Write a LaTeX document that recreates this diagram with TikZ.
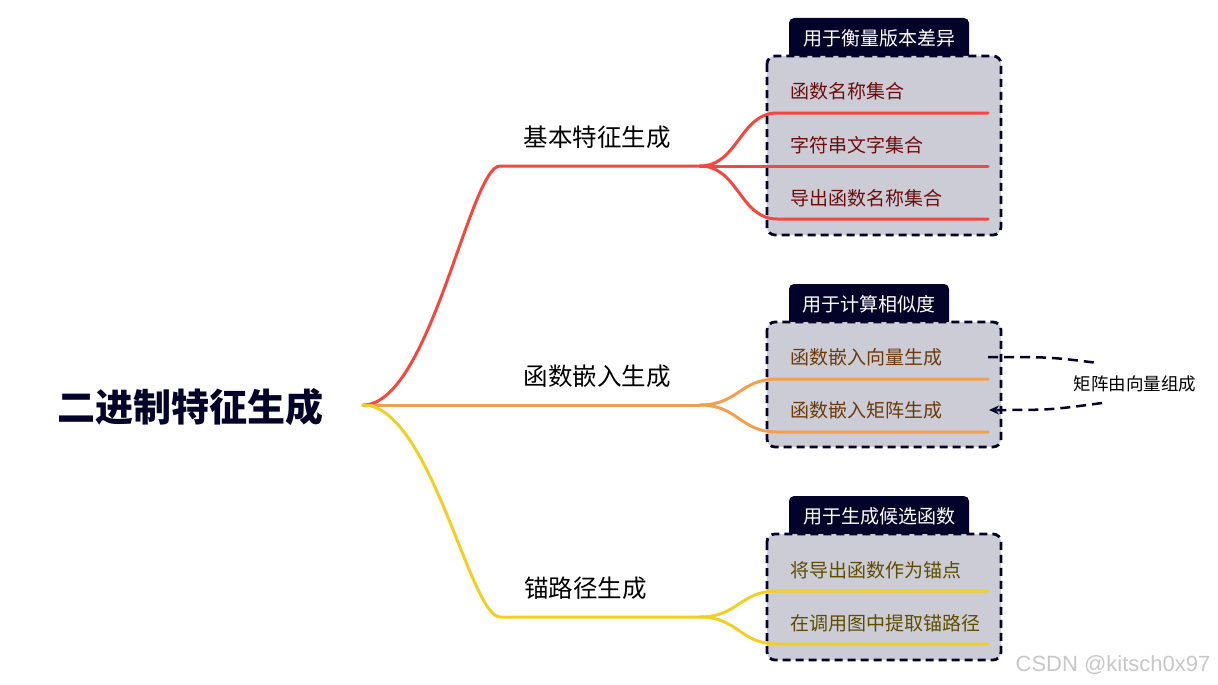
\documentclass[tikz,border=0pt]{standalone}
\usepackage{fontspec}
\usetikzlibrary{arrows.meta}
\newfontfamily\cjk{Noto Sans CJK SC}
\newfontfamily\wmfont{Liberation Sans}
\definecolor{navy}{HTML}{03032A}
\definecolor{boxfill}{HTML}{CBCCD5}
\definecolor{cred}{HTML}{F4473F}
\definecolor{corange}{HTML}{F3A04E}
\definecolor{cyellow}{HTML}{F2CF26}
\definecolor{tred}{HTML}{6E0C0C}
\definecolor{torange}{HTML}{6B3A0A}
\definecolor{tyellow}{HTML}{5E4C00}
\tikzset{
  branchline/.style={line width=3pt, line cap=round},
  branchlabel/.style={font=\cjk\fontsize{24.5}{28}\selectfont, text=black, inner sep=0pt},
  itemtext/.style={font=\cjk\fontsize{19}{22}\selectfont, anchor=west, inner sep=0pt},
  tabbox/.style={fill=navy, rounded corners=5pt, inner sep=0pt},
  tabtext/.style={text=white, font=\cjk\fontsize{19}{22}\selectfont, inner sep=0pt},
  groupfill/.style={fill=boxfill, rounded corners=8pt},
  groupborder/.style={draw=navy, line width=2.8pt, rounded corners=8pt, dash pattern=on 8pt off 5pt},
  annline/.style={draw=navy, line width=2.5pt, dash pattern=on 10pt off 6pt},
}
\begin{document}
\begin{tikzpicture}[x=1pt,y=-1pt]
\useasboundingbox (0,0) rectangle (1218,685);

% root
\node[font=\cjk\bfseries\fontsize{38}{42}\selectfont, text=navy, inner sep=0pt] (root) at (190,407) {二进制特征生成};
\coordinate (o) at (363,405);

% tabs (drawn below the boxes)
\node[tabbox, minimum width=180pt, minimum height=48pt] (tab1) at (879,42) {};
\node[tabtext] (tab1t) at (879,38) {用于衡量版本差异};
\node[tabbox, minimum width=160pt, minimum height=48pt] (tab2) at (869,308) {};
\node[tabtext] (tab2t) at (869,304) {用于计算相似度};
\node[tabbox, minimum width=180pt, minimum height=48pt] (tab3) at (879,520) {};
\node[tabtext] (tab3t) at (879,516) {用于生成候选函数};

% box fills
\path[groupfill] (767,56) rectangle (1001,235);
\path[groupfill] (767,322) rectangle (1001,447);
\path[groupfill] (767,534) rectangle (1001,660);

% branch labels
\node[branchlabel] (b1) at (597,137) {基本特征生成};
\node[branchlabel] (b2) at (597,376) {函数嵌入生成};
\node[branchlabel, anchor=west] (b3) at (524,588) {锚路径生成};

% junctions
\coordinate (j1) at (700,166);
\coordinate (j2) at (700,405);
\coordinate (j3) at (700,617);

% line ends
\coordinate (l11) at (988,113);
\coordinate (l12) at (988,166);
\coordinate (l13) at (988,219);
\coordinate (l21) at (988,379);
\coordinate (l22) at (988,432);
\coordinate (l31) at (988,591);
\coordinate (l32) at (988,644);

% red branch
\draw[branchline, cred] (o) .. controls (430,405) and (470,166) .. (500,166) -- (j1);
\draw[branchline, cred] (j1) .. controls (738,166) and (740,113) .. (777,113) -- (l11);
\draw[branchline, cred] (j1) -- (l12);
\draw[branchline, cred] (j1) .. controls (738,166) and (740,219) .. (777,219) -- (l13);

% orange branch
\draw[branchline, corange] (o) -- (j2);
\draw[branchline, corange] (j2) .. controls (738,405) and (740,379) .. (777,379) -- (l21);
\draw[branchline, corange] (j2) .. controls (738,405) and (740,432) .. (777,432) -- (l22);

% yellow branch
\draw[branchline, cyellow] (o) .. controls (430,405) and (470,617) .. (500,617) -- (j3);
\draw[branchline, cyellow] (j3) .. controls (738,617) and (740,591) .. (777,591) -- (l31);
\draw[branchline, cyellow] (j3) .. controls (738,617) and (740,644) .. (777,644) -- (l32);

% box borders
\path[groupborder] (767,56) rectangle (1001,235);
\path[groupborder] (767,322) rectangle (1001,447);
\path[groupborder] (767,534) rectangle (1001,660);

% items
\node[itemtext, text=tred] (i11) at (790,91) {函数名称集合};
\node[itemtext, text=tred] (i12) at (790,145) {字符串文字集合};
\node[itemtext, text=tred] (i13) at (790,198) {导出函数名称集合};
\node[itemtext, text=torange] (i21) at (790,357) {函数嵌入向量生成};
\node[itemtext, text=torange] (i22) at (790,410) {函数嵌入矩阵生成};
\node[itemtext, text=tyellow] (i31) at (790,570) {将导出函数作为锚点};
\node[itemtext, text=tyellow] (i32) at (790,623) {在调用图中提取锚路径};

% annotation
\node[font=\cjk\fontsize{17.5}{20}\selectfont, text=black, inner sep=0pt] (ann) at (1135,384) {矩阵由向量组成};
\coordinate (a1) at (988,357);
\coordinate (a2) at (1098,363);
\coordinate (a3) at (1102,403);
\coordinate (a4) at (989,410);
\draw[annline] (a1) .. controls (1050,357) .. (a2);
\draw[annline, -{Stealth[length=10pt,width=9pt]}] (a3) .. controls (1050,410) .. (a4);

% watermark
\node[font=\wmfont\fontsize{22}{24}\selectfont, text=black!22, inner sep=0pt] (wm) at (1113,665) {CSDN @kitsch0x97};
\end{tikzpicture}
\end{document}
